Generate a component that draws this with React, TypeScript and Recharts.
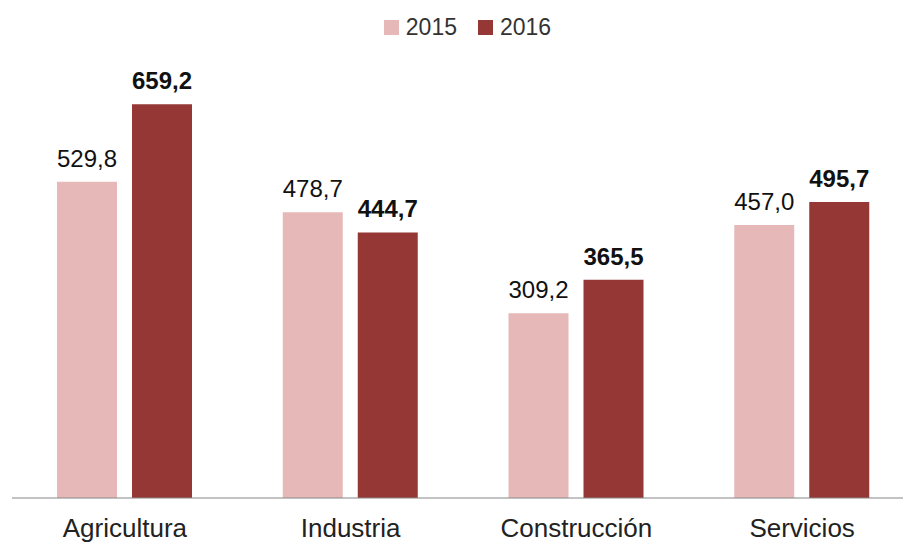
import { BarChart, Bar, XAxis, YAxis, Legend, LabelList } from 'recharts'

const categories = ['Agricultura', 'Industria', 'Construcción', 'Servicios']
const values2015 = [529.8, 478.7, 309.2, 457.0]
const values2016 = [659.2, 444.7, 365.5, 495.7]
const seriesNames = ['2015', '2016']

const COLOR_2015 = '#E6B9B8'
const COLOR_2016 = '#953735'
const FONT = '"Liberation Sans", Arial, sans-serif'

const data = categories.map((name, i) => ({
  name,
  y2015: values2015[i],
  y2016: values2016[i],
}))

const fmt = (v: number) => v.toFixed(1).replace('.', ',')

function ChartLegend() {
  const items = [
    { label: seriesNames[0], color: COLOR_2015 },
    { label: seriesNames[1], color: COLOR_2016 },
  ]
  return (
    <div style={{ height: 72 }}>
      <div
        style={{
          height: 38,
          display: 'flex',
          alignItems: 'center',
          justifyContent: 'center',
          gap: 21,
          fontFamily: FONT,
          fontSize: 23,
          color: '#333333',
          paddingLeft: 8,
        }}
      >
        {items.map((it) => (
          <div key={it.label} style={{ display: 'flex', alignItems: 'center' }}>
            <span style={{ width: 15, height: 15, background: it.color, marginRight: 7, display: 'inline-block' }} />
            <span>{it.label}</span>
          </div>
        ))}
      </div>
    </div>
  )
}

export default function App() {
  return (
    <div style={{ position: 'absolute', left: 0, top: 0, width: 903, height: 545, overflow: 'hidden', background: '#fff' }}>
      <BarChart
        width={915}
        height={545}
        data={data}
        margin={{ top: 8, right: 0, left: 12, bottom: 0 }}
        barSize={60}
        barGap={15}
      >
        <Legend verticalAlign="top" align="center" content={() => <ChartLegend />} />
        <XAxis
          dataKey="name"
          axisLine={{ stroke: '#868686', strokeWidth: 1 }}
          tickLine={false}
          tickSize={0}
          tickMargin={21}
          height={47}
          interval={0}
          tick={{ fontSize: 26, fill: '#222222', fontFamily: FONT }}
        />
        <YAxis hide domain={[0, 700]} />
        <Bar dataKey="y2015" name={seriesNames[0]} fill={COLOR_2015} isAnimationActive={false}>
          <LabelList
            dataKey="y2015"
            position="top"
            offset={15}
            formatter={(v: any) => fmt(Number(v))}
            style={{ fontSize: 24, fill: '#111111', fontFamily: FONT }}
          />
        </Bar>
        <Bar dataKey="y2016" name={seriesNames[1]} fill={COLOR_2016} isAnimationActive={false}>
          <LabelList
            dataKey="y2016"
            position="top"
            offset={15}
            formatter={(v: any) => fmt(Number(v))}
            style={{ fontSize: 24, fill: '#111111', fontFamily: FONT, fontWeight: 700 }}
          />
        </Bar>
      </BarChart>
    </div>
  )
}
